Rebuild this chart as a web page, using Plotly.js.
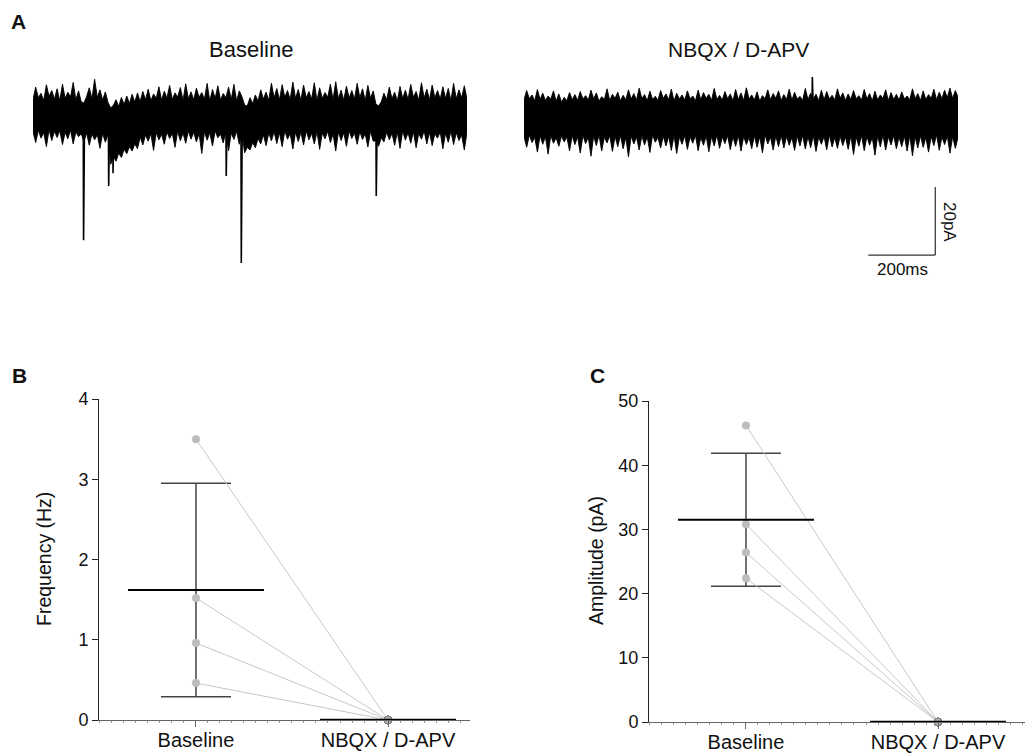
<!DOCTYPE html>
<html>
<head>
<meta charset="utf-8">
<script src="https://cdn.plot.ly/plotly-3.0.1.min.js"></script>
<style>html,body{margin:0;padding:0;background:#fff;}#chart{width:1025px;height:754px;}</style>
</head>
<body>
<div id="chart"></div>
<script>
// ---------- DATA ----------
// Panel A: recorded currents (pA), read every 8 ms as the upper / lower edge of the noise band
const sampleIntervalMs = 8;
const baselineUpper = [
  4.3, 7.9, 4.8, 6.1, 4.0, 8.6, 5.2, 6.9, 4.4, 7.4, 3.9, 8.8, 4.6, 6.4, 5.0, 9.3, 4.2, 6.8, 3.6, 3.2,
  5.1, 7.7, 4.5, 10.2, 4.9, 7.1, 4.1, 6.5, 3.4, 1.8, 2.6, 4.2, 2.2, 4.9, 2.8, 5.3, 3.1, 5.8, 3.5, 6.2,
  3.7, 6.6, 4.2, 7.3, 3.9, 5.9, 4.6, 8.0, 4.1, 6.7, 4.7, 8.4, 4.3, 6.2, 5.0, 7.8, 4.0, 8.9, 4.5, 6.5,
  4.2, 7.6, 4.9, 6.3, 4.4, 9.0, 3.8, 7.2, 4.6, 8.3, 4.1, 6.0, 4.8, 7.9, 4.3, 8.7, 3.9, 6.8, 5.1, 2.6,
  2.4, 4.8, 3.1, 5.6, 3.8, 7.1, 4.4, 6.4, 4.0, 9.1, 4.7, 7.5, 4.2, 8.6, 4.9, 6.9, 4.3, 9.4, 4.6, 7.2,
  4.1, 8.5, 4.8, 6.6, 4.4, 9.2, 4.0, 7.7, 4.6, 6.3, 4.9, 8.8, 4.2, 9.5, 4.5, 7.0, 4.1, 8.2, 4.7, 6.9,
  4.4, 9.0, 4.8, 7.4, 4.0, 8.4, 4.6, 6.8, 2.9, 2.4, 3.6, 6.1, 4.2, 7.9, 4.5, 6.4, 3.9, 8.1, 4.6, 7.0,
  4.3, 8.7, 4.9, 6.6, 4.1, 9.2, 4.7, 7.3, 4.2, 8.5, 4.8, 6.9, 4.4, 8.0, 4.6, 7.5, 4.0, 9.0, 4.5, 7.1,
  4.8, 8.3, 4.4];
const baselineLower = [
  -5.2, -8.4, -4.8, -7.1, -5.5, -9.6, -4.6, -7.8, -5.1, -6.9, -4.9, -9.0, -5.4, -7.3, -4.7, -8.8, -5.3, -6.7, -5.8, -8.1,
  -5.6, -9.2, -5.9, -7.6, -6.1, -10.1, -5.7, -8.3, -6.0, -14.8, -12.6, -13.9, -11.5, -12.8, -10.4, -11.7, -9.6, -10.9, -8.8, -10.2,
  -6.8, -9.1, -6.2, -8.0, -5.8, -10.7, -5.5, -7.6, -6.0, -8.9, -5.3, -7.2, -5.7, -9.8, -5.1, -7.9, -5.6, -8.6, -5.0, -7.4,
  -5.4, -8.2, -5.8, -11.6, -5.2, -7.7, -5.5, -9.4, -5.0, -7.0, -5.9, -8.5, -5.3, -10.8, -5.6, -7.5, -5.1, -8.9, -5.7, -11.4,
  -9.8, -10.6, -8.4, -9.9, -7.2, -8.8, -6.1, -9.3, -5.6, -7.9, -5.2, -8.7, -5.5, -9.6, -5.0, -7.4, -5.8, -10.3, -5.3, -8.1,
  -5.4, -9.1, -5.0, -7.6, -5.7, -8.8, -5.2, -10.4, -5.6, -7.3, -5.1, -8.4, -5.9, -10.9, -5.3, -7.8, -5.5, -9.5, -5.0, -7.2,
  -5.6, -8.9, -5.2, -7.5, -5.8, -9.7, -5.1, -8.0, -7.9, -9.5, -7.0, -8.2, -5.4, -7.6, -5.7, -9.2, -5.3, -10.1, -5.0, -7.7,
  -5.5, -8.6, -5.2, -9.9, -5.7, -7.4, -5.0, -8.8, -5.4, -9.3, -5.8, -7.1, -5.3, -10.2, -5.6, -8.3, -5.1, -9.0, -5.5, -7.8,
  -6.2, -10.6, -5.4];
const baselineEventTimes = [151, 226, 239, 577, 622, 1025];
const baselineEventPeaks = [-37.1, -21.2, -17.4, -18.2, -43.8, -24.1];

const drugUpper = [
  4.2, 6.9, 4.5, 5.6, 3.9, 7.2, 4.3, 6.1, 4.0, 5.3, 4.4, 6.8, 3.8, 5.9, 3.5, 4.9, 3.9, 6.3, 4.2, 5.7,
  4.0, 6.6, 4.4, 5.4, 4.1, 7.0, 4.5, 6.2, 3.8, 5.1, 4.3, 7.4, 4.0, 5.8, 4.6, 6.4, 3.9, 5.5, 4.2, 7.1,
  4.4, 6.0, 4.1, 7.6, 4.5, 5.7, 3.9, 6.7, 4.3, 5.2, 4.0, 6.9, 4.6, 5.9, 4.2, 7.3, 3.8, 6.1, 4.4, 5.6,
  4.1, 6.8, 4.5, 5.3, 3.9, 7.0, 4.2, 6.3, 4.6, 5.8, 4.0, 7.5, 4.3, 5.5, 4.1, 6.6, 4.5, 5.9, 3.9, 7.2,
  4.3, 6.2, 4.0, 7.7, 4.4, 5.6, 4.1, 6.5, 3.8, 5.4, 4.5, 7.1, 4.2, 6.0, 4.6, 6.8, 4.0, 5.7, 4.3, 7.3,
  4.1, 6.4, 4.4, 5.2, 4.0, 7.5, 4.3, 6.1, 4.5, 5.8, 3.9, 7.0, 4.2, 6.6, 4.4, 5.5, 4.1, 7.4, 4.6, 6.2,
  4.0, 5.9, 4.3, 6.9, 4.5, 5.4, 4.1, 7.2, 4.4, 6.0, 3.9, 6.7, 4.2, 5.6, 4.6, 7.1, 4.0, 6.3, 4.3, 5.8,
  4.1, 6.5, 4.4, 5.3, 4.2, 7.4, 4.5, 6.0, 4.0, 6.8, 4.3, 5.7, 4.6, 7.3, 4.2, 6.4, 4.5, 7.0, 4.8, 7.6,
  4.6, 6.9, 5.0];
const drugLower = [
  -6.6, -9.8, -6.2, -8.4, -6.9, -11.2, -6.4, -8.9, -6.7, -11.8, -6.3, -8.6, -7.0, -9.5, -6.5, -8.2, -6.8, -10.8, -6.4, -9.0,
  -6.7, -11.5, -6.3, -8.7, -6.9, -12.4, -6.5, -9.3, -6.2, -10.9, -6.8, -8.5, -6.4, -11.0, -6.6, -9.6, -6.3, -10.2, -6.9, -12.6,
  -6.5, -8.8, -6.8, -10.6, -6.4, -9.1, -6.7, -11.3, -6.2, -8.3, -6.9, -10.0, -6.5, -9.4, -6.6, -10.7, -6.3, -11.6, -6.8, -8.9,
  -6.4, -10.4, -6.7, -8.6, -6.3, -10.8, -6.9, -9.2, -6.5, -11.1, -6.6, -9.4, -6.2, -10.1, -6.8, -8.7, -6.4, -10.5, -6.7, -9.5,
  -6.3, -10.9, -6.6, -9.0, -6.9, -10.2, -6.4, -9.8, -6.7, -11.4, -6.2, -8.8, -6.8, -10.6, -6.5, -9.6, -6.3, -10.0, -6.6, -9.2,
  -6.9, -10.7, -6.5, -9.4, -6.3, -10.3, -6.7, -9.9, -6.4, -11.0, -6.8, -8.9, -6.6, -10.5, -6.2, -9.7, -6.9, -10.1, -6.5, -9.3,
  -6.7, -10.4, -6.4, -11.9, -6.8, -9.5, -6.3, -10.8, -6.6, -9.2, -6.9, -12.1, -6.5, -9.7, -6.2, -10.6, -6.7, -9.1, -6.4, -10.2,
  -6.8, -9.6, -6.5, -10.9, -6.3, -12.3, -6.7, -10.0, -6.4, -9.8, -6.9, -11.2, -6.6, -9.3, -6.2, -10.7, -6.8, -9.0, -6.5, -11.5,
  -6.7, -10.1, -6.9];
const drugEventTimes = [861];
const drugEventPeaks = [10.9];

const scaleBarMs = 200;
const scaleBarPA = 20;

// Panels B & C
const groups = ["Baseline", "NBQX / D-APV"];
const freqBaseline = [3.5, 1.52, 0.96, 0.46];
const freqDrug = [0, 0, 0, 0];
const freqMean = [1.62, 0];
const freqSD = [1.33, 0];
const ampBaseline = [46.2, 30.8, 26.4, 22.4];
const ampDrug = [0, 0, 0, 0];
const ampMean = [31.5, 0];
const ampSD = [10.35, 0];

// ---------- HELPERS ----------
const W = 1025, H = 754;
const px = x => x / W;
const py = y => 1 - y / H;
const FONT = "Liberation Sans, Arial, Helvetica, sans-serif";

const traces = [];

function addRecording(upper, lower, evT, evP, xa, ya) {
  const t = upper.map((_, i) => i * sampleIntervalMs);
  traces.push({x: t, y: upper, xaxis: xa, yaxis: ya, type: 'scatter', mode: 'lines',
    line: {color: '#000', width: 0.9}, hoverinfo: 'skip'});
  traces.push({x: t, y: lower, xaxis: xa, yaxis: ya, type: 'scatter', mode: 'lines',
    line: {color: '#000', width: 0.9}, fill: 'tonexty', fillcolor: '#000', hoverinfo: 'skip'});
  const ex = [], ey = [];
  evT.forEach((tt, i) => { ex.push(tt - 1, tt, tt + 3, null); ey.push(0, evP[i], 0, null); });
  traces.push({x: ex, y: ey, xaxis: xa, yaxis: ya, type: 'scatter', mode: 'lines',
    line: {color: '#000', width: 1.6}, hoverinfo: 'skip'});
}
addRecording(baselineUpper, baselineLower, baselineEventTimes, baselineEventPeaks, 'x', 'y');
addRecording(drugUpper, drugLower, drugEventTimes, drugEventPeaks, 'x2', 'y2');

// scale bar on the drug-trace axes (corner at end of the 200 ms bar)
const sbT = 1228, sbY = -41.5;
traces.push({x: [sbT - scaleBarMs, sbT, sbT], y: [sbY, sbY, sbY + scaleBarPA], xaxis: 'x2', yaxis: 'y2',
  type: 'scatter', mode: 'lines', line: {color: '#000', width: 1}, hoverinfo: 'skip'});

const halfBar = 0.354;
function addPanel(base, drug, mean, sd, xa, ya) {
  mean.forEach((m, g) => {
    if (sd[g] > 0) {
      traces.push({x: [g], y: [m], xaxis: xa, yaxis: ya, type: 'scatter', mode: 'markers',
        marker: {size: 1, color: 'rgba(0,0,0,0)'}, cliponaxis: false,
        error_y: {type: 'data', array: [sd[g]], visible: true, width: 35, thickness: 1.5, color: '#444'},
        hoverinfo: 'skip'});
    }
  });
  base.forEach((b, i) => {
    traces.push({x: [0, 1], y: [b, drug[i]], xaxis: xa, yaxis: ya, type: 'scatter', mode: 'lines+markers',
      line: {color: '#c8c8c8', width: 1},
      marker: {size: 8, color: ['#bdbdbd', '#b0b0b0'], line: {color: ['#bdbdbd', '#7a7a7a'], width: [0, 1]}},
      cliponaxis: false, hoverinfo: 'skip'});
  });
  mean.forEach((m, g) => {
    traces.push({x: [g - halfBar, g + halfBar], y: [m, m], xaxis: xa, yaxis: ya, type: 'scatter', mode: 'lines',
      line: {color: '#000', width: g === 0 ? 2 : 2.6}, cliponaxis: false, hoverinfo: 'skip'});
  });
}
addPanel(freqBaseline, freqDrug, freqMean, freqSD, 'x3', 'y3');
addPanel(ampBaseline, ampDrug, ampMean, ampSD, 'x4', 'y4');

// ---------- LAYOUT ----------
const hidden = {visible: false, showgrid: false, zeroline: false, fixedrange: true};
const yRecRange = [(114 - 280) / 3.4, (114 - 60) / 3.4];
const catAxis = (domain, range) => ({
  domain: domain, range: range, showgrid: false, zeroline: false,
  showline: true, linecolor: '#666', linewidth: 1,
  tickmode: 'array', tickvals: [0, 1], ticktext: groups,
  ticks: 'outside', ticklen: 6, tickcolor: '#666', tickwidth: 1, ticklabelstandoff: -4,
  minor: {ticks: 'outside', ticklen: 2, dtick: 0.0625, tick0: 0, tickcolor: '#999', tickwidth: 1, showgrid: false},
  tickfont: {family: FONT, size: 20, color: '#111'}
});
const valAxis = (domain, range, dtick, anchor) => ({
  domain: domain, range: range, anchor: anchor, showgrid: false, zeroline: false,
  showline: true, linecolor: '#222', linewidth: 1,
  tickmode: 'linear', tick0: 0, dtick: dtick,
  ticks: 'outside', ticklen: 6, tickcolor: '#222', tickwidth: 1,
  tickfont: {family: FONT, size: 18, color: '#111'}
});

const ann = (text, x, y, size, opts) => Object.assign({
  text: text, x: px(x), y: py(y), xref: 'paper', yref: 'paper', showarrow: false,
  xanchor: 'center', yanchor: 'middle', font: {family: FONT, size: size, color: '#111'}
}, opts || {});

const layout = {
  width: W, height: H, margin: {l: 0, r: 0, t: 0, b: 0},
  paper_bgcolor: '#fff', plot_bgcolor: 'rgba(0,0,0,0)', showlegend: false,
  font: {family: FONT, color: '#111'},
  xaxis: Object.assign({}, hidden, {domain: [px(33), px(467)], range: [0, 1296]}),
  yaxis: Object.assign({}, hidden, {domain: [py(280), py(60)], range: yRecRange}),
  xaxis2: Object.assign({}, hidden, {domain: [px(524), px(958)], range: [0, 1296], anchor: 'y2'}),
  yaxis2: Object.assign({}, hidden, {domain: [py(280), py(60)], range: yRecRange, anchor: 'x2'}),
  xaxis3: Object.assign(catAxis([px(99), px(470)], [-0.505, 1.427]), {anchor: 'y3'}),
  yaxis3: valAxis([py(720), py(399)], [0, 4], 1, 'x3'),
  xaxis4: Object.assign(catAxis([px(649), 1], [-0.505, 1.453]), {anchor: 'y4'}),
  yaxis4: valAxis([py(722), py(401)], [0, 50], 10, 'x4'),
  annotations: [
    ann('<b>A</b>', 18, 22, 21),
    ann('<b>B</b>', 19, 375, 21),
    ann('<b>C</b>', 597, 376, 21),
    ann('Baseline', 251, 50, 22),
    ann('NBQX / D-APV', 738, 50, 21),
    ann('20pA', 950, 222, 17, {textangle: 90}),
    ann('200ms', 902, 270, 17),
    ann('Frequency (Hz)', 44, 559, 19.5, {textangle: -90}),
    ann('Amplitude (pA)', 596, 561, 19.5, {textangle: -90})
  ]
};

Plotly.newPlot('chart', traces, layout, {staticPlot: true, displayModeBar: false});
</script>
</body>
</html>
